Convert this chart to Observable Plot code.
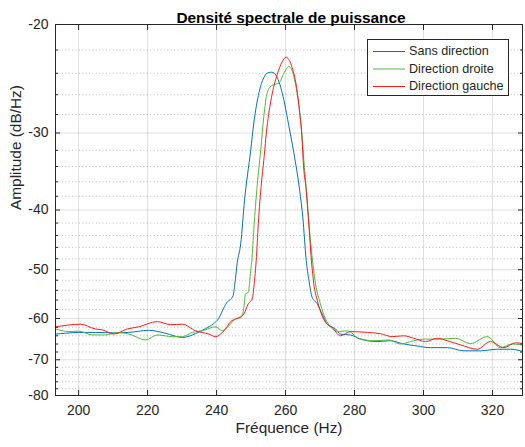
<!DOCTYPE html>
<html>
<head>
<meta charset="utf-8">
<script src="https://cdn.jsdelivr.net/npm/d3@7"></script>
<script src="https://cdn.jsdelivr.net/npm/@observablehq/plot@0.6"></script>
<style>
  html, body { margin: 0; padding: 0; background: white; }
</style>
</head>
<body>
<div id="chart"></div>
<script>
// ---- Data ----
const seriesNames = ["Sans direction", "Direction droite", "Direction gauche"];
const seriesColors = ["#0072BD", "#4DBB3A", "#FF1A1A"];

const xTicks = [200, 220, 240, 260, 280, 300, 320];
const yTicks = [-20, -30, -40, -50, -60, -70, -80];
const yMinor = [-22, -24, -26, -28, -32, -34, -36, -38, -42, -44, -46, -48,
                -52, -54, -56, -58, -62, -64, -66, -68, -72, -74, -76, -78];

const blueF = [193.3, 196.2, 200, 204.9, 209.9, 214.5, 220.3, 225.2, 230.1, 233.9, 236.8, 239.1, 240.6, 241.7, 242.9, 244.1, 244.8, 245.3, 246.0, 247.0, 248.1, 249.9, 250.8, 252.3, 253.7, 254.6, 255.9, 256.8, 257.6, 258.6, 259.5, 261.0, 262.4, 264.1, 265.0, 266.0, 266.8, 267.7, 269.2, 270.6, 272.1, 274.5, 275.9, 278.8, 281.7, 286.6, 290.4, 293.8, 298.2, 302.0, 306.9, 311.7, 316.5, 321.4, 325.2, 329.6];
const blueV = [-63.6, -63.4, -63.2, -63.2, -63.3, -63.2, -62.7, -63.4, -64.4, -63.5, -62.3, -61.2, -60.0, -58.3, -56.6, -55.8, -55.1, -52.7, -48.7, -45.4, -38.6, -32.0, -28.9, -25.8, -24.4, -24.0, -23.9, -24.0, -24.4, -25.3, -26.5, -29.3, -32.3, -37.2, -41.1, -48.3, -52.1, -55.4, -56.8, -59.0, -61.3, -62.4, -63.6, -63.8, -64.8, -65.4, -65.2, -65.9, -66.5, -66.9, -66.9, -67.7, -67.7, -67.3, -67.3, -68.1];

const greenF = [193.3, 197.2, 200, 204.0, 207.8, 211.2, 214.6, 219.4, 222.8, 227.2, 230.1, 233.0, 235.9, 239.7, 241.7, 243.6, 245.5, 247.0, 247.9, 248.4, 249.2, 249.9, 250.3, 250.8, 251.8, 252.8, 253.7, 254.7, 256.1, 257.1, 258.1, 259.5, 261.0, 262.4, 263.9, 264.8, 265.3, 266.0, 266.8, 267.5, 268.7, 270.1, 271.6, 273.0, 275.4, 277.9, 281.2, 285.6, 289.9, 293.3, 296.2, 300.1, 304.9, 309.3, 313.6, 318.5, 322.3, 325.7, 329.6];
const greenV = [-62.4, -63.0, -62.9, -63.8, -63.8, -63.2, -63.6, -65.0, -63.8, -64.2, -64.2, -63.2, -62.8, -61.9, -62.8, -61.6, -60.1, -59.8, -57.6, -54.7, -54.4, -50.1, -47.8, -43.0, -36.4, -32.0, -28.2, -25.8, -25.1, -25.0, -24.9, -24.0, -23.4, -24.3, -27.2, -30.4, -33.2, -36.9, -42.2, -46.5, -52.7, -56.8, -60.1, -61.9, -63.0, -62.8, -64.6, -65.2, -65.0, -66.0, -65.4, -64.8, -64.8, -64.6, -65.9, -64.2, -66.9, -66.0, -66.4];

const redF = [193.3, 200.6, 204.9, 206.9, 210.2, 214.1, 217.4, 222.8, 226.7, 230.1, 233.9, 237.8, 239.7, 241.7, 242.6, 244.1, 245.5, 247.0, 247.9, 249.2, 250.3, 251.1, 251.5, 252.1, 253.0, 253.7, 254.6, 255.9, 257.6, 259.0, 260.1, 261.7, 263.2, 264.1, 264.8, 265.1, 266.0, 266.8, 267.5, 268.2, 269.2, 270.6, 271.6, 273.5, 275.9, 278.8, 283.7, 287.5, 290.9, 294.3, 297.2, 300.6, 304.0, 306.9, 310.7, 315.6, 319.4, 323.3, 326.7, 329.6];
const redV = [-61.9, -61.3, -62.4, -62.6, -63.6, -62.4, -61.9, -60.7, -61.4, -61.3, -62.8, -63.6, -64.2, -63.2, -62.4, -60.7, -60.1, -59.6, -59.0, -56.8, -55.8, -51.4, -48.3, -42.1, -36.2, -33.2, -29.4, -26.3, -24.1, -23.0, -22.6, -23.3, -25.3, -27.8, -30.8, -33.2, -37.2, -42.6, -48.3, -52.7, -56.1, -59.4, -60.9, -62.0, -64.0, -63.0, -63.2, -63.5, -64.2, -64.0, -64.6, -65.4, -64.6, -65.2, -66.2, -67.3, -65.4, -66.9, -65.7, -66.0];

// ---- Build table ----
const seriesData = [[blueF, blueV], [greenF, greenV], [redF, redV]];
const rows = seriesData.flatMap(([F, V], k) =>
  F.map((f, i) => ({name: seriesNames[k], f, v: V[i]})));

const ink = "#262626";
const font = "'Liberation Sans', Arial, Helvetica, sans-serif";

const chart = Plot.plot({
  width: 525,
  height: 447,
  marginLeft: 55,
  marginRight: 3,
  marginTop: 24,
  marginBottom: 52,
  style: {fontFamily: font, fontSize: "14px", color: ink, background: "white", overflow: "visible"},
  x: {domain: [193.3, 328.7]},
  y: {type: "log", domain: [-80, -20]},
  color: {domain: seriesNames, range: seriesColors},
  marks: [
    Plot.gridX(xTicks, {stroke: ink, strokeOpacity: 0.15}),
    Plot.gridY(yMinor, {stroke: ink, strokeOpacity: 0.3, strokeDasharray: "1,2.4"}),
    Plot.gridY(yTicks, {stroke: ink, strokeOpacity: 0.15}),
    Plot.line(rows, {x: "f", y: "v", z: "name", stroke: "name", strokeWidth: 1, curve: "monotone-x", clip: true}),
    Plot.frame({stroke: ink, strokeWidth: 1}),
    Plot.axisX(xTicks, {anchor: "bottom", tickSize: -5, tickPadding: 15, tickFormat: d => String(d), label: null, fontSize: 14, fill: ink, stroke: ink}),
    Plot.axisX(xTicks, {anchor: "top", tickSize: -5, tickFormat: () => "", label: null, stroke: ink}),
    Plot.axisY(yTicks, {anchor: "left", tickSize: -5, tickPadding: 12, tickFormat: d => String(d), label: null, fontSize: 14, fill: ink, stroke: ink}),
    Plot.axisY(yTicks, {anchor: "right", tickSize: -5, tickFormat: () => "", label: null, stroke: ink}),
    Plot.axisY(yMinor, {anchor: "left", tickSize: -3, tickFormat: () => "", label: null, stroke: ink}),
    Plot.axisY(yMinor, {anchor: "right", tickSize: -3, tickFormat: () => "", label: null, stroke: ink}),
    Plot.text(["Densité spectrale de puissance"], {frameAnchor: "top", dy: -12, dx: 2, fontWeight: "bold", fontSize: 15.4, fill: "#000"}),
    Plot.text(["Fréquence (Hz)"], {frameAnchor: "bottom", dy: 37, fontSize: 15.4, fill: ink}),
    Plot.text(["Amplitude (dB/Hz)"], {frameAnchor: "left", dx: -39, rotate: -90, fontSize: 15.4, fill: ink})
  ]
});

document.getElementById("chart").appendChild(chart);

// ---- Legend box (inside the axes, top-right) ----
const svg = d3.select(chart);
const lg = svg.append("g")
  .attr("font-family", font)
  .attr("font-size", 12.6)
  .attr("text-anchor", "start");
lg.append("rect")
  .attr("x", 367.5).attr("y", 39.5).attr("width", 141).attr("height", 56)
  .attr("fill", "white").attr("stroke", ink).attr("stroke-width", 1);
seriesNames.forEach((name, i) => {
  const y = 51 + i * 17.5;
  lg.append("line").attr("x1", 373).attr("x2", 405).attr("y1", y + 0.5).attr("y2", y + 0.5)
    .attr("stroke", seriesColors[i]).attr("stroke-width", 1);
  lg.append("text").attr("x", 409).attr("y", y).attr("dy", "0.35em")
    .attr("text-anchor", "start")
    .attr("fill", ink).text(name);
});
</script>
</body>
</html>
